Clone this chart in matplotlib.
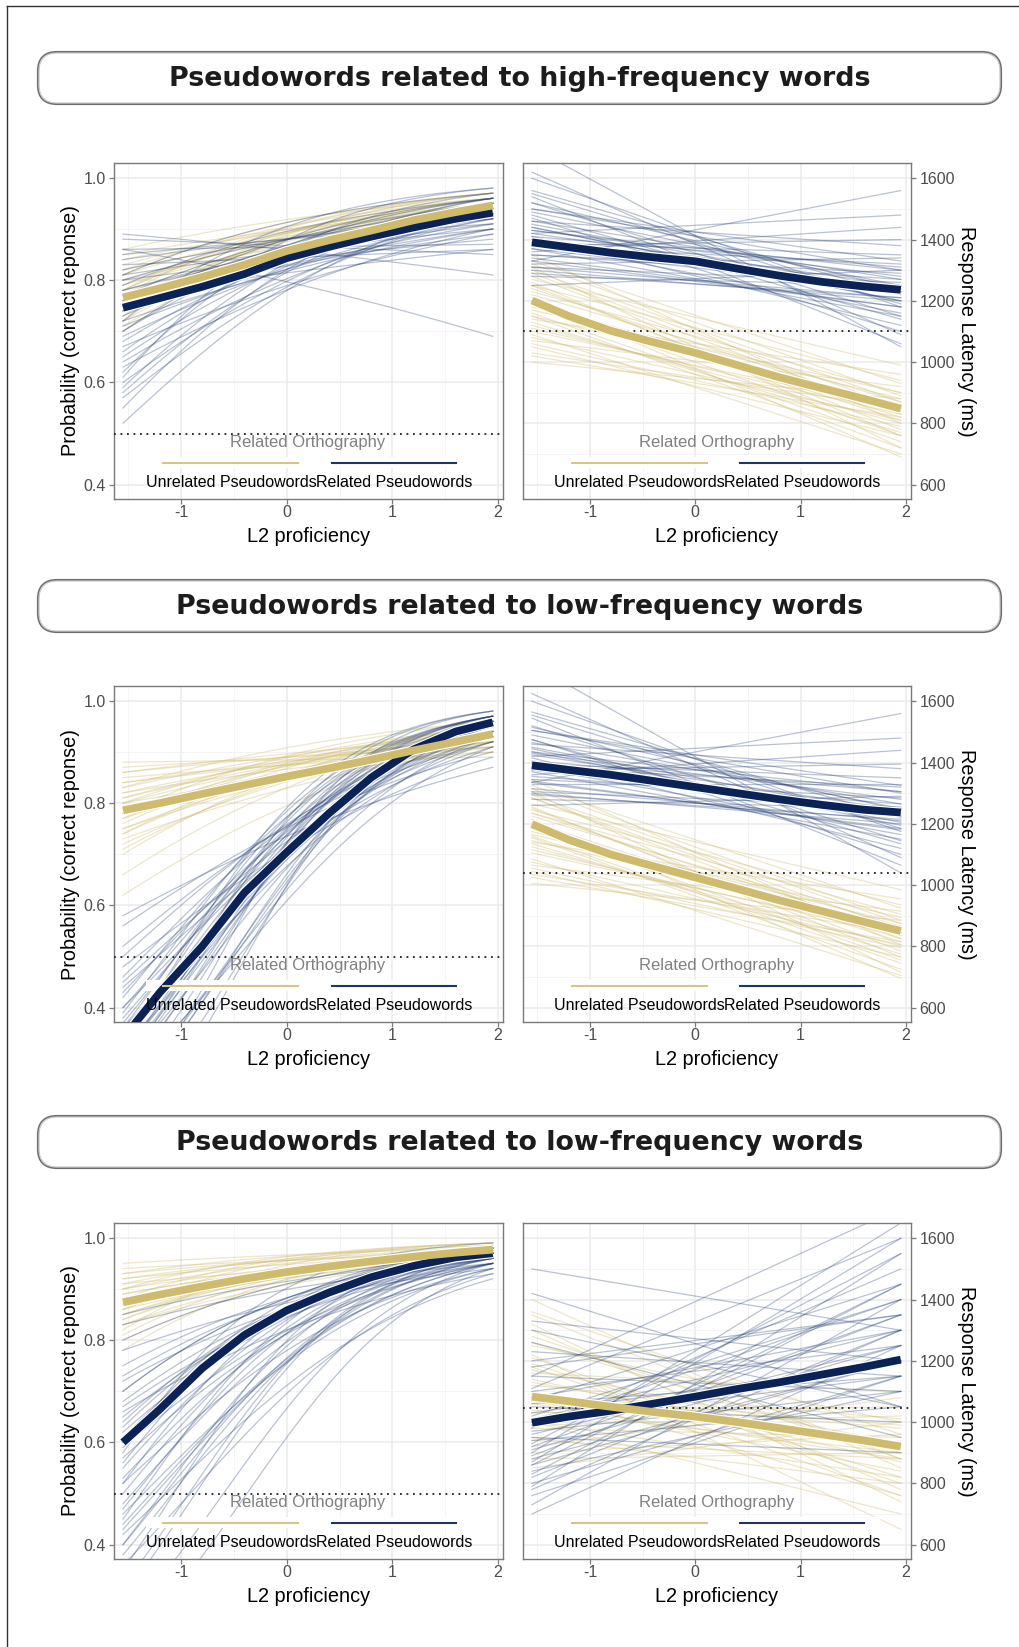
import numpy as np
import matplotlib.pyplot as plt
from matplotlib.patches import FancyBboxPatch, Rectangle

plt.rcParams['font.family'] = ['Liberation Sans', 'DejaVu Sans']
plt.rcParams['axes.unicode_minus'] = False

W, H = 1019, 1647

titles = ['Pseudowords related to high-frequency words',
          'Pseudowords related to low-frequency words',
          'Pseudowords related to low-frequency words']
group_labels = ['Unrelated Pseudowords', 'Related Pseudowords']
legend_title = 'Related Orthography'

x_mean = [-1.55, -1.2, -0.8, -0.4, 0.0, 0.4, 0.8, 1.2, 1.6, 1.95]
draw_x0, draw_x1 = -1.55, 1.95

# ---- row 1: high-frequency ----
hf_acc_unrel_mean = [0.766, 0.784, 0.806, 0.830, 0.857, 0.878, 0.897, 0.917, 0.933, 0.946]
hf_acc_rel_mean = [0.746, 0.765, 0.787, 0.812, 0.843, 0.865, 0.885, 0.903, 0.920, 0.932]
hf_rt_unrel_mean = [1201, 1150, 1102, 1065, 1030, 990, 950, 915, 880, 848]
hf_rt_rel_mean = [1391, 1375, 1357, 1342, 1329, 1305, 1282, 1262, 1247, 1236]

hf_acc_unrel_lo = [0.70, 0.72, 0.73, 0.74, 0.75, 0.76, 0.77, 0.78, 0.79, 0.80, 0.81, 0.82, 0.83, 0.84, 0.86, 0.75, 0.78, 0.80, 0.73, 0.77,
                   0.71, 0.74, 0.76, 0.77, 0.79, 0.81, 0.82, 0.85, 0.72, 0.78]
hf_acc_unrel_hi = [0.96, 0.95, 0.97, 0.94, 0.96, 0.95, 0.93, 0.96, 0.95, 0.94, 0.97, 0.93, 0.95, 0.94, 0.96, 0.93, 0.97, 0.92, 0.95, 0.95,
                   0.95, 0.96, 0.94, 0.97, 0.93, 0.95, 0.96, 0.94, 0.97, 0.96]
hf_acc_rel_lo = [0.52, 0.55, 0.58, 0.60, 0.62, 0.64, 0.66, 0.68, 0.70, 0.71, 0.73, 0.74, 0.75, 0.76, 0.78, 0.79, 0.80, 0.82, 0.83, 0.85,
                 0.86, 0.88, 0.89, 0.86, 0.72, 0.77, 0.67, 0.81,
                 0.63, 0.65, 0.69, 0.70, 0.72, 0.74, 0.75, 0.76, 0.77, 0.78, 0.80, 0.81, 0.84, 0.59, 0.57, 0.61]
hf_acc_rel_hi = [0.94, 0.96, 0.95, 0.93, 0.97, 0.92, 0.95, 0.94, 0.96, 0.91, 0.93, 0.95, 0.90, 0.94, 0.92, 0.96, 0.88, 0.93, 0.86, 0.91,
                 0.87, 0.85, 0.81, 0.69, 0.98, 0.86, 0.89, 0.97,
                 0.90, 0.94, 0.92, 0.95, 0.90, 0.96, 0.93, 0.89, 0.95, 0.91, 0.94, 0.90, 0.92, 0.96, 0.93, 0.98]
hf_rt_unrel_lo = [1000, 1020, 1050, 1070, 1090, 1100, 1120, 1140, 1160, 1180, 1200, 1210, 1230, 1250, 1270, 1290, 1310, 1330, 1350, 1150,
                  1190, 1240, 1080, 1300, 1030, 1060, 1110, 1130, 1170, 1200, 1220, 1260, 1280, 1320, 1150, 1250]
hf_rt_unrel_hi = [880, 820, 760, 920, 700, 850, 800, 960, 740, 880, 820, 690, 900, 780, 990, 850, 720, 930, 800, 860,
                  760, 840, 810, 870, 850, 790, 830, 770, 900, 810, 870, 760, 830, 890, 720, 940]
hf_rt_rel_lo = [1250, 1280, 1300, 1320, 1340, 1350, 1370, 1380, 1400, 1410, 1430, 1440, 1460, 1470, 1490, 1500, 1520, 1540, 1560, 1600,
                1620, 1360, 1420, 1330, 1700, 1390, 1450, 1310,
                1290, 1310, 1330, 1350, 1370, 1390, 1410, 1420, 1440, 1460, 1480, 1500, 1520, 1550, 1380, 1430]
hf_rt_rel_hi = [1300, 1250, 1200, 1340, 1180, 1270, 1150, 1320, 1230, 1120, 1280, 1200, 1380, 1100, 1250, 1300, 1150, 1060, 1220, 1180,
                1090, 1440, 1480, 1560, 1050, 1350, 1230, 1210,
                1210, 1260, 1180, 1290, 1230, 1160, 1310, 1250, 1200, 1270, 1140, 1330, 1240, 1190, 1400, 1300]

# ---- row 2: low-frequency ----
lf_acc_unrel_mean = [0.786, 0.800, 0.818, 0.835, 0.852, 0.868, 0.885, 0.903, 0.920, 0.935]
lf_acc_rel_mean = [0.34, 0.43, 0.52, 0.625, 0.704, 0.780, 0.850, 0.905, 0.940, 0.958]
lf_rt_unrel_mean = [1199, 1148, 1100, 1062, 1025, 988, 950, 915, 880, 850]
lf_rt_rel_mean = [1391, 1376, 1360, 1340, 1320, 1300, 1280, 1262, 1246, 1237]

lf_acc_unrel_lo = [0.62, 0.70, 0.72, 0.74, 0.75, 0.76, 0.77, 0.78, 0.79, 0.80, 0.81, 0.82, 0.83, 0.84, 0.85, 0.86, 0.87, 0.88, 0.78, 0.80,
                   0.73, 0.83, 0.66, 0.71, 0.75, 0.77, 0.79, 0.81, 0.82, 0.84, 0.86, 0.74, 0.80]
lf_acc_unrel_hi = [0.92, 0.95, 0.93, 0.94, 0.92, 0.95, 0.93, 0.94, 0.92, 0.95, 0.93, 0.91, 0.94, 0.92, 0.90, 0.93, 0.91, 0.89, 0.96, 0.90,
                   0.91, 0.96, 0.94, 0.94, 0.93, 0.95, 0.92, 0.94, 0.93, 0.91, 0.92, 0.95, 0.93]
lf_acc_rel_lo = [0.15, 0.18, 0.20, 0.22, 0.24, 0.25, 0.27, 0.28, 0.30, 0.31, 0.32, 0.34, 0.35, 0.36, 0.38, 0.40, 0.42, 0.44, 0.46, 0.48,
                 0.52, 0.56, 0.58, 0.26, 0.33, 0.39,
                 0.21, 0.23, 0.26, 0.29, 0.30, 0.32, 0.34, 0.35, 0.37, 0.40, 0.43, 0.45, 0.28, 0.31, 0.36, 0.50]
lf_acc_rel_hi = [0.97, 0.96, 0.98, 0.95, 0.97, 0.93, 0.96, 0.98, 0.95, 0.97, 0.94, 0.96, 0.92, 0.97, 0.95, 0.93, 0.96, 0.91, 0.94, 0.89,
                 0.92, 0.90, 0.87, 0.91, 0.98, 0.97,
                 0.96, 0.95, 0.97, 0.94, 0.96, 0.95, 0.97, 0.93, 0.96, 0.95, 0.94, 0.92, 0.97, 0.96, 0.94, 0.93]
lf_rt_unrel_lo = [1005, 1025, 1045, 1065, 1085, 1105, 1125, 1140, 1160, 1175, 1195, 1215, 1235, 1250, 1265, 1285, 1305, 1325, 1345, 1145,
                  1185, 1235, 1075, 1295, 1035, 1055, 1115, 1135, 1165, 1205, 1225, 1255, 1285, 1315, 1155, 1245]
lf_rt_unrel_hi = [885, 815, 765, 915, 705, 845, 800, 955, 745, 875, 825, 695, 905, 785, 985, 855, 715, 925, 805, 865,
                  755, 845, 805, 875, 845, 795, 835, 775, 895, 815, 865, 765, 825, 885, 725, 935]
lf_rt_rel_lo = [1260, 1280, 1300, 1330, 1340, 1355, 1370, 1385, 1400, 1415, 1430, 1445, 1460, 1475, 1490, 1505, 1520, 1545, 1565, 1600,
                1625, 1360, 1420, 1335, 1720, 1395, 1450, 1315,
                1295, 1305, 1335, 1345, 1375, 1385, 1405, 1425, 1435, 1465, 1475, 1505, 1515, 1555, 1375, 1435]
lf_rt_rel_hi = [1290, 1250, 1200, 1330, 1180, 1265, 1150, 1320, 1225, 1120, 1280, 1195, 1380, 1100, 1250, 1300, 1145, 1065, 1220, 1175,
                1090, 1440, 1480, 1560, 1040, 1350, 1225, 1210,
                1215, 1255, 1185, 1285, 1235, 1165, 1305, 1245, 1205, 1265, 1135, 1325, 1245, 1185, 1395, 1305]

# ---- row 3: low-frequency (second set) ----
lf2_acc_unrel_mean = [0.874, 0.889, 0.905, 0.920, 0.933, 0.944, 0.954, 0.963, 0.971, 0.977]
lf2_acc_rel_mean = [0.600, 0.665, 0.745, 0.810, 0.858, 0.893, 0.923, 0.945, 0.962, 0.970]
lf2_rt_unrel_mean = [1083, 1068, 1050, 1033, 1018, 1000, 980, 960, 940, 920]
lf2_rt_rel_mean = [998, 1018, 1037, 1060, 1083, 1108, 1130, 1155, 1180, 1204]

lf2_acc_unrel_lo = [0.78, 0.80, 0.82, 0.83, 0.84, 0.85, 0.86, 0.87, 0.88, 0.89, 0.90, 0.91, 0.92, 0.93, 0.94, 0.95, 0.88, 0.86, 0.90, 0.84,
                    0.81, 0.83, 0.85, 0.87, 0.89, 0.91, 0.92, 0.93, 0.86, 0.90]
lf2_acc_unrel_hi = [0.98, 0.97, 0.99, 0.96, 0.98, 0.97, 0.98, 0.96, 0.99, 0.97, 0.98, 0.96, 0.97, 0.985, 0.97, 0.98, 0.975, 0.965, 0.99, 0.975,
                    0.98, 0.97, 0.975, 0.98, 0.97, 0.985, 0.98, 0.975, 0.99, 0.97]
lf2_acc_rel_lo = [0.20, 0.30, 0.35, 0.38, 0.40, 0.43, 0.45, 0.48, 0.50, 0.52, 0.55, 0.57, 0.60, 0.62, 0.64, 0.66, 0.68, 0.70, 0.72, 0.75,
                  0.78, 0.80, 0.83, 0.85, 0.42, 0.58, 0.36,
                  0.32, 0.40, 0.44, 0.47, 0.53, 0.56, 0.59, 0.61, 0.65, 0.67, 0.70, 0.73, 0.46, 0.52, 0.63, 0.25]
lf2_acc_rel_hi = [0.94, 0.97, 0.98, 0.96, 0.97, 0.95, 0.98, 0.96, 0.97, 0.94, 0.97, 0.95, 0.98, 0.96, 0.97, 0.93, 0.96, 0.97, 0.95, 0.96,
                  0.94, 0.97, 0.95, 0.96, 0.92, 0.99, 0.93,
                  0.97, 0.96, 0.95, 0.97, 0.96, 0.98, 0.95, 0.97, 0.96, 0.95, 0.97, 0.96, 0.94, 0.98, 0.97, 0.95]
lf2_rt_unrel_lo = [850, 880, 920, 950, 980, 1000, 1030, 1060, 1080, 1100, 1130, 1160, 1190, 1220, 1250, 1280, 1320, 1360, 1400, 1000,
                   1120, 1180, 900, 940, 990, 1040, 1070, 1090, 1140, 1170, 1210, 1260, 1300, 1350]
lf2_rt_unrel_hi = [1000, 900, 1080, 800, 950, 700, 1050, 880, 980, 760, 920, 1100, 820, 650, 1000, 880, 740, 960, 850, 820,
                   1010, 760, 960, 880, 1020, 900, 840, 990, 870, 930, 800, 900, 780, 880]
lf2_rt_rel_lo = [700, 730, 760, 790, 820, 840, 860, 880, 900, 920, 940, 960, 980, 1000, 1020, 1050, 1080, 1110, 1150, 1200,
                 1260, 1330, 1420, 870, 1060, 1500, 950, 1150,
                 780, 800, 830, 860, 890, 910, 930, 970, 990, 1010, 1030, 1070, 1100, 1180, 1230, 1300]
lf2_rt_rel_hi = [1250, 1400, 1150, 1550, 1300, 1100, 1450, 1200, 1650, 1350, 1050, 1250, 1500, 1150, 1400, 1000, 1300, 1600, 1100, 1350,
                 950, 1200, 1050, 1600, 1150, 1300, 900, 1700,
                 1300, 1150, 1450, 1200, 1350, 1250, 1550, 1100, 1400, 1300, 1200, 1450, 1250, 1350, 1150, 1050]

acc_refs = [0.5, 0.5, 0.5]
rt_refs = [1100, 1040, 1045]

rows = [
    (hf_acc_unrel_mean, hf_acc_rel_mean, hf_acc_unrel_lo, hf_acc_unrel_hi, hf_acc_rel_lo, hf_acc_rel_hi,
     hf_rt_unrel_mean, hf_rt_rel_mean, hf_rt_unrel_lo, hf_rt_unrel_hi, hf_rt_rel_lo, hf_rt_rel_hi),
    (lf_acc_unrel_mean, lf_acc_rel_mean, lf_acc_unrel_lo, lf_acc_unrel_hi, lf_acc_rel_lo, lf_acc_rel_hi,
     lf_rt_unrel_mean, lf_rt_rel_mean, lf_rt_unrel_lo, lf_rt_unrel_hi, lf_rt_rel_lo, lf_rt_rel_hi),
    (lf2_acc_unrel_mean, lf2_acc_rel_mean, lf2_acc_unrel_lo, lf2_acc_unrel_hi, lf2_acc_rel_lo, lf2_acc_rel_hi,
     lf2_rt_unrel_mean, lf2_rt_rel_mean, lf2_rt_unrel_lo, lf2_rt_unrel_hi, lf2_rt_rel_lo, lf2_rt_rel_hi),
]

NAVY = '#0a2255'
GOLD = '#cfbb6d'
NAVY_T = '#1f3b72'
GOLD_T = '#d2bf76'
NAVY_KEY = '#1f3566'
GOLD_KEY = '#d6c48a'

xs = np.linspace(draw_x0, draw_x1, 40)


def logit(p):
    p = np.asarray(p, dtype=float)
    return np.log(p / (1 - p))


def acc_draw(p0, p1):
    # accuracy draws follow the logit link between their two ends
    z = logit(p0) + (logit(p1) - logit(p0)) * (xs - draw_x0) / (draw_x1 - draw_x0)
    return 1 / (1 + np.exp(-z))


def style_axes(ax, acc):
    ax.set_xlim(-1.635, 2.047)
    ax.set_xticks([-1, 0, 1, 2])
    ax.set_xticks([-1.5, -0.5, 0.5, 1.5], minor=True)
    if acc:
        ax.set_ylim(0.372, 1.029)
        ax.set_yticks([0.4, 0.6, 0.8, 1.0])
        ax.set_yticklabels(['0.4', '0.6', '0.8', '1.0'])
        ax.set_yticks([0.5, 0.7, 0.9], minor=True)
    else:
        ax.set_ylim(553, 1650)
        ax.set_yticks([600, 800, 1000, 1200, 1400, 1600])
        ax.set_yticks([700, 900, 1100, 1300, 1500], minor=True)
        ax.yaxis.tick_right()
    ax.set_axisbelow(True)
    ax.grid(which='major', color='#ebebeb', lw=1.1)
    ax.grid(which='minor', color='#f3f3f3', lw=0.6)
    for s in ax.spines.values():
        s.set_color('#7a7a7a')
        s.set_linewidth(1.0)
    ax.tick_params(which='major', length=3.5, width=0.9, color='#7a7a7a',
                   labelsize=11.5, labelcolor='#4d4d4d')
    ax.tick_params(axis='x', pad=1)
    ax.tick_params(axis='y', pad=2.5)
    ax.tick_params(which='minor', length=0)
    ax.text(0.5, -0.113, 'L2 proficiency', transform=ax.transAxes,
            ha='center', va='center', fontsize=14.3)
    if acc:
        ax.text(-0.113, 0.5, 'Probability (correct reponse)', transform=ax.transAxes,
                rotation=90, ha='center', va='center', fontsize=14.3)
    else:
        ax.text(1.144, 0.5, 'Response Latency (ms)', transform=ax.transAxes,
                rotation=270, ha='center', va='center', fontsize=14.3)


def legend(ax):
    ax.text(0.499, 0.167, legend_title, transform=ax.transAxes, ha='center',
            va='center', color='#808080', fontsize=12, zorder=9)
    ax.add_patch(Rectangle((0.082, 0.091), 0.437, 0.033, transform=ax.transAxes,
                           fc='white', ec='none', zorder=3))
    ax.add_patch(Rectangle((0.519, 0.091), 0.401, 0.033, transform=ax.transAxes,
                           fc='white', ec='none', zorder=3))
    ax.plot([0.126, 0.473], [0.107, 0.107], transform=ax.transAxes,
            color=GOLD_KEY, lw=1.5, zorder=8)
    ax.plot([0.560, 0.879], [0.107, 0.107], transform=ax.transAxes,
            color=NAVY_KEY, lw=1.5, zorder=8)
    ax.text(0.301, 0.048, group_labels[0], transform=ax.transAxes, ha='center',
            va='center', fontsize=11.5, zorder=9)
    ax.text(0.720, 0.048, group_labels[1], transform=ax.transAxes, ha='center',
            va='center', fontsize=11.5, zorder=9)


def draw_panel(ax, acc, m_un, m_rel, un_lo, un_hi, rel_lo, rel_hi, ref):
    style_axes(ax, acc)
    for lo, hi, c, a in [(un_lo, un_hi, GOLD_T, 0.38), (rel_lo, rel_hi, NAVY_T, 0.31)]:
        for p0, p1 in zip(lo, hi):
            if acc:
                ax.plot(xs, acc_draw(p0, p1), color=c, lw=0.9, alpha=a, zorder=2)
            else:
                ax.plot([draw_x0, draw_x1], [p0, p1], color=c, lw=0.9, alpha=a, zorder=2)
    ax.axhline(ref, color='#222222', lw=1.3, ls=(0, (1, 2.6)), zorder=4)
    legend(ax)
    for m, c in [(m_rel, NAVY), (m_un, GOLD)]:
        ax.plot(x_mean, m, color='white', lw=7.2, solid_capstyle='butt', zorder=5)
        ax.plot(x_mean, m, color=c, lw=5.6, solid_capstyle='butt', zorder=6)


fig = plt.figure(figsize=(W / 100, H / 100), dpi=100)

# background layer in pixel coordinates: frame and title banners
bg = fig.add_axes([0, 0, 1, 1])
bg.set_xlim(0, W)
bg.set_ylim(H, 0)
bg.axis('off')
bg.plot([7, 7], [5.5, H], color='#333333', lw=1.0)
bg.plot([7, W], [5.5, 5.5], color='#333333', lw=1.0)

banner_tops = [53, 581, 1117]
panel_tops = [163, 686, 1223]
BH, PH = 50, 336

for i, top in enumerate(banner_tops):
    for ec, lw in [('#6e6e6e', 3.0), ('#cacaca', 0.9)]:
        bg.add_patch(FancyBboxPatch((39, top), 961, BH,
                                    boxstyle='round,pad=0,rounding_size=18',
                                    fc='white', ec=ec, lw=lw))
    bg.text(519.5, top + BH / 2 + 1, titles[i], ha='center', va='center',
            fontsize=19.4, fontweight='bold', family='DejaVu Sans', color='#1c1c1c')

for i, top in enumerate(panel_tops):
    r = rows[i]
    bottom = 1 - (top + PH) / H
    ax_l = fig.add_axes([114 / W, bottom, 389 / W, PH / H])
    ax_r = fig.add_axes([523 / W, bottom, 388 / W, PH / H])
    draw_panel(ax_l, True, r[0], r[1], r[2], r[3], r[4], r[5], acc_refs[i])
    draw_panel(ax_r, False, r[6], r[7], r[8], r[9], r[10], r[11], rt_refs[i])

fig.savefig('out.png', dpi=100)
